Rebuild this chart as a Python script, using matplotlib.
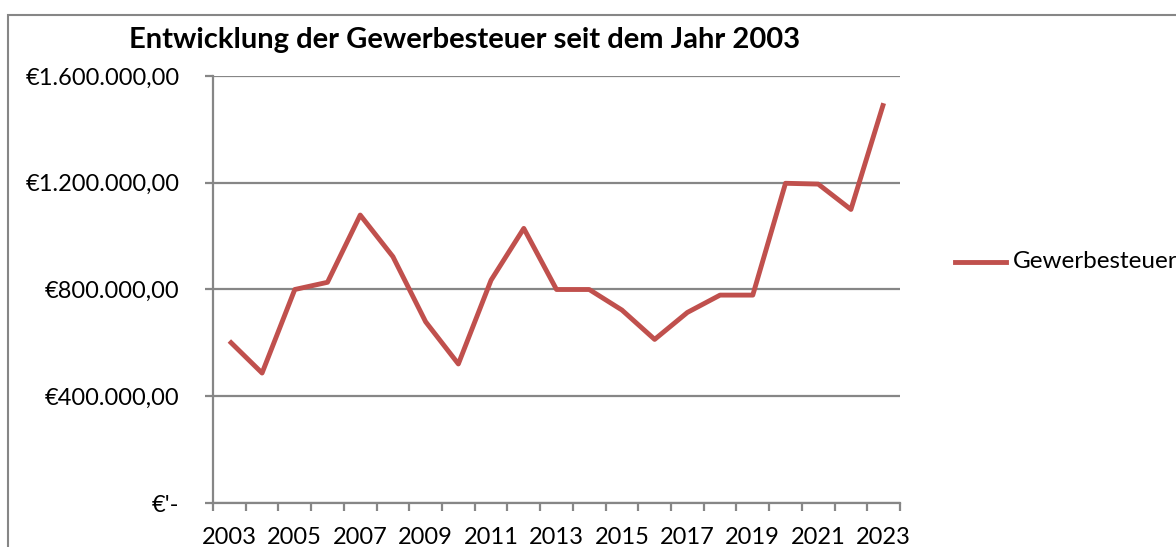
import matplotlib
matplotlib.use("Agg")
import matplotlib.pyplot as plt
from matplotlib.patches import Rectangle
from matplotlib.lines import Line2D
import numpy as np

years = list(range(2003, 2024))
values = [607000, 487000, 800000, 827000, 1079000, 923000, 679000, 521000,
          835000, 1029000, 800000, 800000, 723000, 613000, 714000, 779000,
          779000, 1198000, 1195000, 1100000, 1498000]
y_ticks = [0, 400000, 800000, 1200000, 1600000]
y_labels = ["€'-", "€400.000,00", "€800.000,00", "€1.200.000,00", "€1.600.000,00"]
title = "Entwicklung der Gewerbesteuer seit dem Jahr 2003"
series_name = "Gewerbesteuer"

plt.rcParams['font.family'] = ['Lato', 'DejaVu Sans']

W, H = 1176, 547
fig = plt.figure(figsize=(W / 100, H / 100), dpi=100)

grid_col = "#868686"
line_col = "#C0504D"
fs = 17

# outer chart border (partially cut off)
fig.patches.append(Rectangle((8 / W, -0.1), 1.2, 1 - 15 / H + 0.1,
                             transform=fig.transFigure, fill=False,
                             edgecolor=grid_col, linewidth=1.5))

ax = fig.add_axes([213 / W, 1 - 503 / H, (900 - 213) / W, (503 - 76) / H])
x = np.arange(len(years))
ax.plot(x, values, color=line_col, linewidth=3.5, solid_joinstyle='round',
        solid_capstyle='butt')

ax.set_xlim(-0.5, len(years) - 0.5)
ax.set_ylim(0, 1600000)
ax.set_yticks(y_ticks)
ax.set_yticklabels(y_labels, fontsize=fs)
ax.yaxis.grid(True, color=grid_col, linewidth=1.6)
ax.set_axisbelow(True)

ax.set_xticks(x[::2])
ax.set_xticklabels([str(y) for y in years[::2]], fontsize=fs)
ax.set_xticks(np.arange(-0.5, len(years)), minor=True)
ax.tick_params(axis='x', which='major', length=0, pad=17)
ax.tick_params(axis='x', which='minor', length=6, width=1.6, color=grid_col, direction='out')
ax.tick_params(axis='y', length=6, width=1.6, color=grid_col, pad=18)

for s in ['top', 'right']:
    ax.spines[s].set_visible(False)
for s in ['left', 'bottom']:
    ax.spines[s].set_color(grid_col)
    ax.spines[s].set_linewidth(1.6)

fig.text(465 / W, 1 - 40 / H, title, ha='center', va='center',
         fontsize=21, fontweight='bold')

# legend
fig.add_artist(Line2D([955 / W, 1006 / W], [1 - 262 / H, 1 - 262 / H],
                      transform=fig.transFigure, color=line_col, linewidth=3.5))
fig.text(1013 / W, 1 - 262 / H, series_name, ha='left', va='center', fontsize=17.5)

fig.savefig("out.png", dpi=100)
